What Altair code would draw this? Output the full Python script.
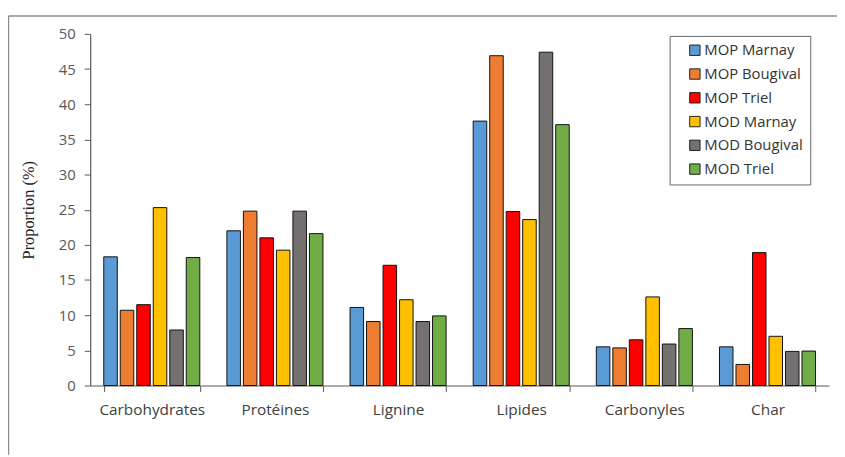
import altair as alt
import pandas as pd

categories = ["Carbohydrates", "Protéines", "Lignine", "Lipides", "Carbonyles", "Char"]
series = ["MOP Marnay", "MOP Bougival", "MOP Triel", "MOD Marnay", "MOD Bougival", "MOD Triel"]
colors = ["#5B9BD5", "#ED7D31", "#FF0000", "#FFC000", "#767171", "#70AD47"]

mop_marnay = [18.3, 22.0, 11.1, 37.6, 5.5, 5.5]
mop_bougival = [10.7, 24.8, 9.1, 46.9, 5.35, 3.0]
mop_triel = [11.5, 21.0, 17.1, 24.75, 6.5, 18.9]
mod_marnay = [25.3, 19.25, 12.2, 23.6, 12.6, 7.0]
mod_bougival = [7.9, 24.8, 9.1, 47.4, 5.9, 4.85]
mod_triel = [18.2, 21.6, 9.9, 37.1, 8.1, 4.9]

values = [mop_marnay, mop_bougival, mop_triel, mod_marnay, mod_bougival, mod_triel]
rows = []
for s, vals in zip(series, values):
    for c, v in zip(categories, vals):
        rows.append({"Catégorie": c, "Série": s, "Proportion": v})
df = pd.DataFrame(rows)

bars = alt.Chart(df).mark_bar(stroke="#111111", strokeWidth=1).encode(
    x=alt.X("Catégorie:N", sort=categories,
            scale=alt.Scale(paddingInner=0.22, paddingOuter=0.11),
            axis=alt.Axis(title=None, labelAngle=0, tickBand="extent",
                          labelFont="Open Sans", labelFontSize=15.5, labelColor="#404040",
                          labelPadding=11, tickSize=6, tickColor="#595959",
                          domainColor="#595959", domainWidth=1.2)),
    xOffset=alt.XOffset("Série:N", sort=series, scale=alt.Scale(paddingInner=0.18)),
    y=alt.Y("Proportion:Q", scale=alt.Scale(domain=[0, 50], nice=False),
            axis=alt.Axis(title="Proportion (%)", values=list(range(0, 51, 5)),
                          grid=False, tickSize=6, tickColor="#595959",
                          domainColor="#595959", domainWidth=1.2,
                          labelFont="Open Sans", labelFontSize=15, labelColor="#595959",
                          labelPadding=9,
                          titleFont="Liberation Serif", titleFontSize=16.5,
                          titleFontWeight="normal", titleColor="#222222",
                          titlePadding=22)),
    color=alt.Color("Série:N", sort=series,
                    scale=alt.Scale(domain=series, range=colors),
                    legend=alt.Legend(title=None, orient="none", legendX=585, legendY=2,
                                      symbolType="square", symbolSize=110,
                                      symbolStrokeColor="#222222", symbolStrokeWidth=1,
                                      labelFont="Open Sans", labelFontSize=15,
                                      labelColor="#333333", labelOffset=2,
                                      rowPadding=8, padding=7, symbolOffset=11,
                                      strokeColor="#666666", fillColor="white")),
)

frame_data = alt.Data(values=[{"k": 1}])
frame_left = alt.Chart(frame_data).mark_rule(color="#8c8c8c", strokeWidth=1.5).encode(
    x=alt.value(-82.5), y=alt.value(-18), y2=alt.value(425))
frame_top = alt.Chart(frame_data).mark_rule(color="#8c8c8c", strokeWidth=1.5).encode(
    x=alt.value(-82.5), x2=alt.value(760), y=alt.value(-18))

chart = alt.layer(frame_left, frame_top, bars).properties(
    width=746, height=355,
    autosize=alt.AutoSizeParams(type="none"),
    padding={"left": 83, "top": 24, "right": 8, "bottom": 70},
    background="white",
).configure_view(stroke=None)

chart.save("out.html", embed_options={"renderer": "svg", "actions": False})
